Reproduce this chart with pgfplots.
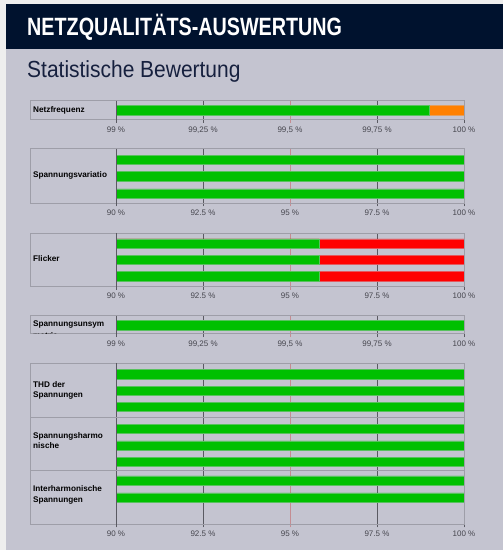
\documentclass[border=0pt]{standalone}
\usepackage{pgfplots}
\pgfplotsset{compat=1.18}
\usepackage{fontspec}
\setmainfont{Liberation Sans}
\definecolor{page}{RGB}{238,238,238}
\definecolor{bg}{RGB}{196,196,208}
\definecolor{navy}{RGB}{0,18,46}
\definecolor{subt}{RGB}{22,32,62}
\definecolor{gr}{RGB}{0,192,0}
\definecolor{rd}{RGB}{255,0,0}
\definecolor{org}{RGB}{255,128,0}
\definecolor{frm}{RGB}{158,158,168}
\definecolor{gridd}{RGB}{90,90,98}
\definecolor{gridr}{RGB}{196,140,146}
\definecolor{tcol}{RGB}{70,70,78}
\newcommand{\lbl}{\fontsize{8.2}{10}\selectfont\bfseries}
\pgfplotsset{
  panel/.style={
    scale only axis, width=348pt, xbar, bar width=9.5, bar shift=0pt,
    y dir=reverse, ytick=\empty, axis line style={draw=none},
    tick pos=left, tick align=outside, major tick length=3pt,
    xmajorgrids, major grid style={gridd, line width=0.8pt},
    major tick style={gridd, line width=0.8pt},
    xticklabel style={font=\fontsize{8}{9}\selectfont, text=tcol},
    extra x tick style={major grid style={gridr, line width=0.7pt}, major tick style={gridr, line width=0.7pt}},
    anchor=center,
  },
  p90/.style={panel, xmin=90, xmax=100,
    x coord trafo/.code={\pgfmathparse{##1-90}},
    x coord inv trafo/.code={\pgfmathparse{##1+90}},
    xtick={90,92.5,97.5,100}, xticklabels={90 \%,92.5 \%,97.5 \%,100 \%},
    extra x ticks={95}, extra x tick labels={95 \%}},
  p99/.style={panel, xmin=99, xmax=100,
    x coord trafo/.code={\pgfmathparse{##1-99}},
    x coord inv trafo/.code={\pgfmathparse{##1+99}},
    xtick={99,99.25,99.75,100}, xticklabels={99 \%,99{,}25 \%,99{,}75 \%,100 \%},
    extra x ticks={99.5}, extra x tick labels={99{,}5 \%}},
  gbar/.style={fill=gr, draw=gr!55!bg, line width=0.5pt},
  rbar/.style={fill=rd, draw=rd!55!bg, line width=0.5pt},
  obar/.style={fill=org, draw=org!55!bg, line width=0.5pt},
}
\begin{document}
\begin{tikzpicture}
\fill[page] (0pt,0pt) rectangle (503pt,550pt);
\fill[bg] (6pt,0pt) rectangle (503pt,501pt);
\fill[navy] (6pt,501pt) rectangle (503pt,546pt);
\node[anchor=base west, text=white, inner sep=0pt] at (27pt,514pt)
  {\fontsize{25}{25}\selectfont\bfseries\scalebox{0.79}[1]{NETZQUALITÄTS-AUSWERTUNG}};
\node[anchor=base west, text=subt, inner sep=0pt] at (27pt,472pt)
  {\fontsize{23.3}{24}\selectfont\scalebox{0.9}[1]{Statistische Bewertung}};

% Panel 1: Netzfrequenz
\begin{axis}[p99, at={(290pt,439.5pt)}, height=19pt, ymin=101, ymax=120]
\addplot[obar] coordinates {(100,110.5)};
\addplot[gbar] coordinates {(99.9,110.5)};
\end{axis}
% Panel 2: Spannungsvariation
\begin{axis}[p90, at={(290pt,373.85pt)}, height=54.3pt, ymin=149, ymax=203.3]
\addplot[gbar] coordinates {(100,160) (100,176) (100,193.5)};
\end{axis}
% Panel 3: Flicker
\begin{axis}[p90, at={(290pt,290pt)}, height=53.4pt, ymin=233.3, ymax=286.7]
\addplot[rbar] coordinates {(100,243.7) (100,260) (100,276.3)};
\addplot[gbar] coordinates {(95.83,243.7) (95.83,260) (95.83,276.3)};
\end{axis}
% Panel 4: Spannungsunsymmetrie
\begin{axis}[p99, at={(290pt,225pt)}, height=18pt, ymin=316, ymax=334]
\addplot[gbar] coordinates {(100,325.3)};
\end{axis}
% Panel 5: Harmonics
\begin{axis}[p90, at={(290pt,106.2pt)}, height=161pt, ymin=363.3, ymax=524.3]
\addplot[gbar] coordinates {(100,374.2) (100,390.8) (100,406.8) (100,428.8) (100,445.5) (100,461.8) (100,480.7) (100,497.5)};
\end{axis}

% frames
\foreach \t/\b in {449/430, 401/346.7, 316.7/263.3, 234/216, 186.7/25.7}{
  \draw[frm, line width=1pt] (30pt,\t pt) rectangle (464pt,\b pt);
  \draw[gridd, line width=0.9pt] (116pt,\t pt) -- (116pt,\b pt-3pt);
}
\draw[frm, line width=1pt] (30pt,132.7pt) -- (464pt,132.7pt);
\draw[frm, line width=1pt] (30pt,79pt) -- (464pt,79pt);

% labels
\node[anchor=base west, inner sep=0pt, font=\lbl] at (33pt,437.7pt) {Netzfrequenz};
\node[anchor=base west, inner sep=0pt, font=\lbl] at (33pt,372.3pt) {Spannungsvariatio};
\node[anchor=base west, inner sep=0pt, font=\lbl] at (33pt,288.3pt) {Flicker};
\begin{scope}
\clip (31pt,216.6pt) rectangle (115pt,233pt);
\node[anchor=base west, inner sep=0pt, font=\lbl] at (33pt,223pt) {Spannungsunsym};
\node[anchor=base west, inner sep=0pt, font=\lbl] at (33pt,211pt) {metrie};
\end{scope}
\node[anchor=base west, inner sep=0pt, font=\lbl] at (33pt,162.3pt) {THD der};
\node[anchor=base west, inner sep=0pt, font=\lbl] at (33pt,152.3pt) {Spannungen};
\node[anchor=base west, inner sep=0pt, font=\lbl] at (33pt,111.3pt) {Spannungsharmo};
\node[anchor=base west, inner sep=0pt, font=\lbl] at (33pt,101.3pt) {nische};
\node[anchor=base west, inner sep=0pt, font=\lbl] at (33pt,58pt) {Interharmonische};
\node[anchor=base west, inner sep=0pt, font=\lbl] at (33pt,48pt) {Spannungen};
\end{tikzpicture}
\end{document}
